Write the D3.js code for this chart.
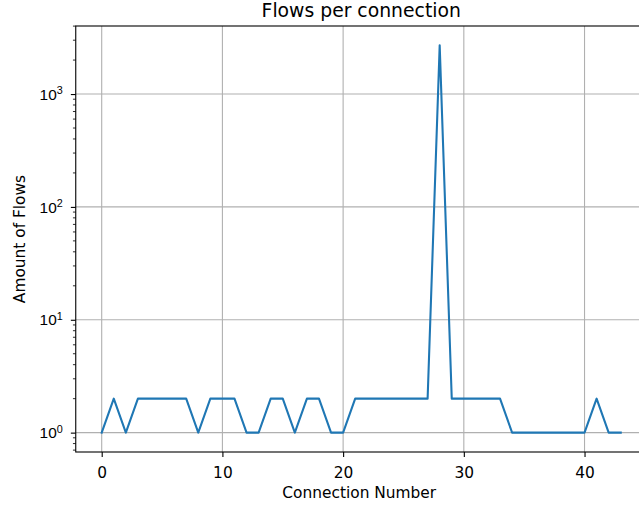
<!DOCTYPE html>
<html>
<head>
<meta charset="utf-8">
<script src="https://cdn.jsdelivr.net/npm/d3@7"></script>
<style>
  body { margin: 0; background: #fff; }
  svg { display: block; font-family: "DejaVu Sans", sans-serif; }
</style>
</head>
<body>
<div id="wrapper"></div>
<script>
// connection index on x, number of flows on y
const connectionNumbers = [
  0, 1, 2, 3, 4, 5, 6, 7, 8, 9, 10, 11, 12, 13, 14, 15, 16, 17, 18, 19, 20, 21,
  22, 23, 24, 25, 26, 27, 28, 29, 30, 31, 32, 33, 34, 35, 36, 37, 38, 39, 40, 41, 42, 43,
]
const flowCounts = [
  1, 2, 1, 2, 2, 2, 2, 2, 1, 2, 2, 2, 1, 1, 2, 2, 1, 2, 2, 1, 1, 2,
  2, 2, 2, 2, 2, 2, 2700, 2, 2, 2, 2, 2, 1, 1, 1, 1, 1, 1, 1, 2, 1, 1,
]
const xTicks = [0, 10, 20, 30, 40]
const yTickExponents = [0, 1, 2, 3]

function drawLineChart() {
  const data = connectionNumbers.map((c, i) => ({ connection: c, flows: flowCounts[i] }))
  const xAccessor = (d) => d.connection
  const yAccessor = (d) => d.flows

  let dimensions = {
    width: 639,
    height: 505,
    margins: { top: 26, left: 75.75 },
    boundedWidth: 570.95, // right spine falls just outside the picture
    boundedHeight: 426,
  }

  const wrapper = d3
    .select("#wrapper")
    .append("svg")
    .attr("width", dimensions.width)
    .attr("height", dimensions.height)

  const bounds = wrapper
    .append("g")
    .attr("transform", `translate(${dimensions.margins.left},${dimensions.margins.top})`)

  // matplotlib style 5% margins
  const xExtent = d3.extent(data, xAccessor)
  const xPad = (xExtent[1] - xExtent[0]) * 0.05
  const xScale = d3
    .scaleLinear()
    .domain([xExtent[0] - xPad, xExtent[1] + xPad])
    .range([0, dimensions.boundedWidth])

  const logExtent = d3.extent(data, (d) => Math.log10(yAccessor(d)))
  const logPad = (logExtent[1] - logExtent[0]) * 0.05
  const yScale = d3
    .scaleLog()
    .domain([10 ** (logExtent[0] - logPad), 10 ** (logExtent[1] + logPad)])
    .range([dimensions.boundedHeight, 0])

  // grid
  const grid = bounds.append("g").attr("stroke", "#b0b0b0").attr("stroke-width", 1.1)
  grid.selectAll(".vgrid")
    .data(xTicks)
    .join("line")
    .attr("x1", (d) => xScale(d))
    .attr("x2", (d) => xScale(d))
    .attr("y1", 0)
    .attr("y2", dimensions.boundedHeight)
  grid.selectAll(".hgrid")
    .data(yTickExponents)
    .join("line")
    .attr("x1", 0)
    .attr("x2", dimensions.boundedWidth)
    .attr("y1", (d) => yScale(10 ** d))
    .attr("y2", (d) => yScale(10 ** d))

  // the line
  const lineGenerator = d3
    .line()
    .x((d) => xScale(xAccessor(d)))
    .y((d) => yScale(yAccessor(d)))

  bounds
    .append("path")
    .attr("d", lineGenerator(data))
    .attr("fill", "none")
    .attr("stroke", "#1f77b4")
    .attr("stroke-width", 2.08)
    .attr("stroke-linejoin", "round")
    .attr("stroke-linecap", "square")

  // x axis
  const xAxisGenerator = d3
    .axisBottom(xScale)
    .tickValues(xTicks)
    .tickSize(4.9)
    .tickSizeOuter(0)

  const xAxis = bounds
    .append("g")
    .attr("transform", `translate(0,${dimensions.boundedHeight})`)
    .call(xAxisGenerator)
  xAxis.select(".domain").remove()
  xAxis.selectAll(".tick line").attr("stroke", "#000").attr("stroke-width", 1.1)
  xAxis.selectAll(".tick text")
    .attr("y", 26)
    .attr("dy", null)
    .attr("fill", "#000")
    .style("font-size", "15.4px")
    .style("font-family", "DejaVu Sans")

  // y axis, major ticks with 10^n labels
  const yAxisGenerator = d3
    .axisLeft(yScale)
    .tickValues(yTickExponents.map((e) => 10 ** e))
    .tickSize(4.9)
    .tickSizeOuter(0)
    .tickFormat("")

  const yAxis = bounds.append("g").call(yAxisGenerator)
  yAxis.select(".domain").remove()
  yAxis.selectAll(".tick line").attr("stroke", "#000").attr("stroke-width", 1.1)
  yAxis.selectAll(".tick text").remove()
  yAxis.selectAll(".tick")
    .data(yTickExponents)
    .append("text")
    .attr("x", -13)
    .attr("y", 5.2)
    .attr("text-anchor", "end")
    .attr("fill", "#000")
    .style("font-size", "15.4px")
    .call((t) => t.append("tspan").text("10"))
    .call((t) =>
      t.append("tspan").attr("dy", -5.8).style("font-size", "10.8px").text((d) => d)
    )

  // minor ticks of the log axis
  const [yMin, yMax] = yScale.domain()
  const minorValues = []
  for (let e = -1; e <= 3; e++) {
    for (let m = 2; m <= 9; m++) {
      const v = m * 10 ** e
      if (v >= yMin && v <= yMax) minorValues.push(v)
    }
  }
  bounds
    .append("g")
    .selectAll("line")
    .data(minorValues)
    .join("line")
    .attr("x1", -2.8)
    .attr("x2", 0)
    .attr("y1", (d) => yScale(d))
    .attr("y2", (d) => yScale(d))
    .attr("stroke", "#000")
    .attr("stroke-width", 0.83)

  // spines
  bounds.append("rect")
    .attr("x", 0)
    .attr("y", 0)
    .attr("width", dimensions.boundedWidth)
    .attr("height", dimensions.boundedHeight)
    .attr("fill", "none")
    .attr("stroke", "#000")
    .attr("stroke-width", 1.1)

  // labels
  wrapper.append("text")
    .attr("x", dimensions.margins.left + dimensions.boundedWidth / 2)
    .attr("y", 16.5)
    .attr("text-anchor", "middle")
    .style("font-size", "18.8px")
    .text("Flows per connection")

  wrapper.append("text")
    .attr("x", dimensions.margins.left + dimensions.boundedWidth / 2 - 2)
    .attr("y", 497.5)
    .attr("text-anchor", "middle")
    .style("font-size", "15.4px")
    .text("Connection Number")

  wrapper.append("text")
    .attr("transform", `translate(25,${dimensions.margins.top + 213}) rotate(-90)`)
    .attr("text-anchor", "middle")
    .style("font-size", "15.4px")
    .text("Amount of Flows")
}

drawLineChart()
</script>
</body>
</html>
